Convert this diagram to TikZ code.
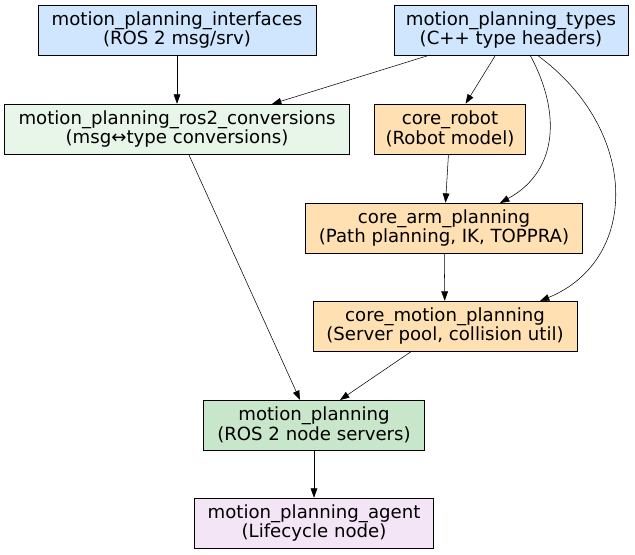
\documentclass[tikz,border=0pt]{standalone}
\usepackage{fontspec}
\setmainfont{DejaVu Sans}
\usetikzlibrary{arrows.meta,positioning}
\definecolor{ifblue}{HTML}{D0E6FF}
\definecolor{convgreen}{HTML}{E8F5E9}
\definecolor{coreorange}{HTML}{FFE0B2}
\definecolor{mpgreen}{HTML}{C8E6C9}
\definecolor{agentpurple}{HTML}{F3E5F5}
\tikzset{pkg/.style={draw=black,align=center,minimum height=37.5pt,inner sep=1pt,
    font=\fontsize{13.6}{13.5}\selectfont},
  dep/.style={-{Triangle[length=7pt,width=5pt]},black}}

\begin{document}
\begin{tikzpicture}[x=0.75pt,y=-0.75pt]
\useasboundingbox (0,0) rectangle (635,555);
\node[pkg,fill=ifblue,minimum width=208.5pt] (ifaces) at (177,30) {motion\_planning\_interfaces\\(ROS 2 msg/srv)};
\node[pkg,fill=ifblue,minimum width=175.5pt] (types) at (511,30) {motion\_planning\_types\\(C++ type headers)};
\node[pkg,fill=convgreen,minimum width=258.75pt] (conv) at (177,129) {motion\_planning\_ros2\_conversions\\(msg↔type conversions)};
\node[pkg,fill=coreorange,minimum width=113.25pt] (robot) at (450,129) {core\_robot\\(Robot model)};
\node[pkg,fill=coreorange,minimum width=207.75pt] (arm) at (444,228) {core\_arm\_planning\\(Path planning, IK, TOPPRA)};
\node[pkg,fill=coreorange,minimum width=198pt] (cmp) at (445,326) {core\_motion\_planning\\(Server pool, collision util)};
\node[pkg,fill=mpgreen,minimum width=165.75pt] (mp) at (314,425) {motion\_planning\\(ROS 2 node servers)};
\node[pkg,fill=agentpurple,minimum width=179.25pt] (agent) at (314,523) {motion\_planning\_agent\\(Lifecycle node)};
% edge end points
\coordinate (t1) at (430,55);
\coordinate (t2) at (530,55);
\coordinate (t3) at (537,55);
\coordinate (c1) at (272,104);
\coordinate (c2) at (189,155);
\coordinate (m1) at (300,400);
\coordinate (m2) at (340,400);
\coordinate (s1) at (412,351);
% dependencies
\draw[dep] (ifaces) -- (conv);
\draw[dep] (t1) -- (c1);
\draw[dep] (types) -- (robot);
\draw[dep] (t2) .. controls (560,110) and (560,170) .. (500,203);
\draw[dep] (t3) .. controls (640,130) and (640,260) .. (540,301);
\draw[dep] (robot) -- (arm);
\draw[dep] (arm) -- (cmp);
\draw[dep] (c2) -- (m1);
\draw[dep] (s1) -- (m2);
\draw[dep] (mp) -- (agent);
\end{tikzpicture}
\end{document}
